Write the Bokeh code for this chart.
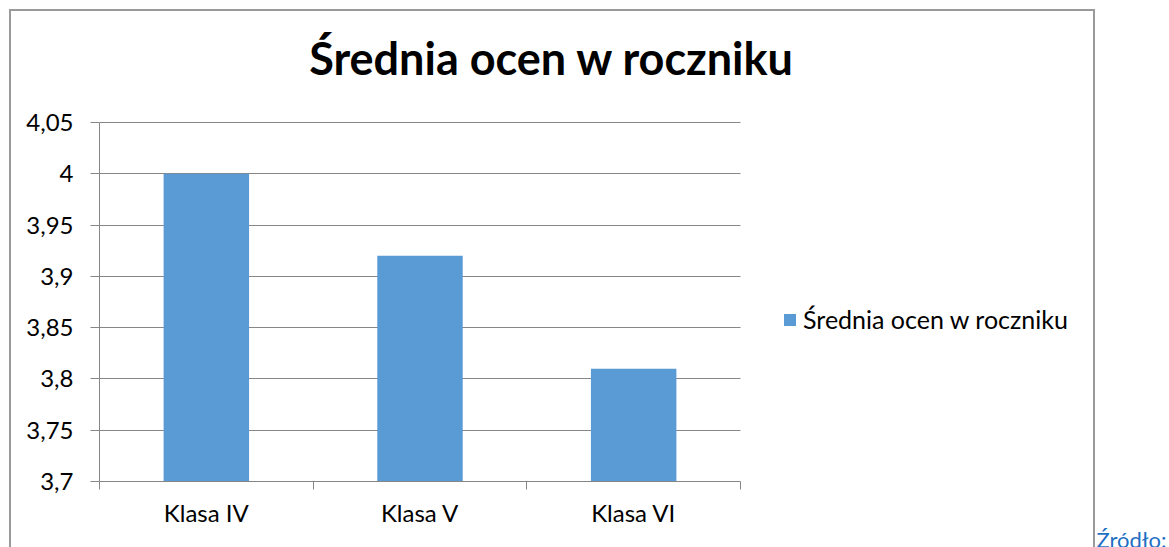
import numpy as np
from bokeh.plotting import figure
from bokeh.models import (FixedTicker, Legend, LegendItem, ColumnDataSource, Range1d, Title, Label)
from bokeh.embed import file_html
from bokeh.resources import INLINE

# ---- data ----
categories = ["Klasa IV", "Klasa V", "Klasa VI"]
values = [4.00, 3.92, 3.81]
series_name = "Średnia ocen w roczniku"
title_text = "Średnia ocen w roczniku"
y_ticks = [3.70, 3.75, 3.80, 3.85, 3.90, 3.95, 4.00, 4.05]
y_tick_labels = ["3,7", "3,75", "3,8", "3,85", "3,9", "3,95", "4", "4,05"]
source_text = "Źródło:"

FONT = "Lato"
GRAY = "#868686"
BAR = "#5B9BD5"
EDGE = "#9a9a9a"

W, H = 1169, 547
FL, FB = 99, 481                 # left / bottom edges of the bar area on the canvas
PLOT_R, PLOT_T = 740, 122        # right / top edges of the bar area
FRAME_R, FRAME_T = 1160, 10      # frame also holds the title and legend areas
n = len(categories)
x_end = n * (FRAME_R - FL) / (PLOT_R - FL)
y0, y1 = y_ticks[0], y_ticks[-1]
y_end = y0 + (y1 - y0) * (FB - FRAME_T) / (FB - PLOT_T)

p = figure(width=W, height=H, output_backend="svg", toolbar_location=None,
           x_range=Range1d(0, x_end), y_range=Range1d(y0, y_end),
           min_border_left=FL, min_border_right=W - FRAME_R, min_border_top=FRAME_T,
           min_border_bottom=H - FB)
p.outline_line_color = None
p.background_fill_alpha = 0
p.border_fill_alpha = 0

# outer chart frame (left, top and right edges) drawn as the element background
g = f"linear-gradient({EDGE},{EDGE})"
p.styles = {
    "background-color": "white",
    "background-image": ", ".join([g, g, g]),
    "background-position": "9px 9px, 9px 9px, 1093px 9px",
    "background-size": "2px 600px, 1086px 2px, 2px 600px",
    "background-repeat": "no-repeat",
}

xs = np.arange(n) + 0.5
src = ColumnDataSource(dict(x=xs, top=values, cat=categories))
r = p.vbar(x="x", top="top", bottom=y0, width=0.4, source=src,
           fill_color=BAR, line_color=None)

# x axis
p.xaxis.bounds = (0, n)
p.xaxis.ticker = FixedTicker(ticks=list(xs), minor_ticks=list(np.arange(n + 1)))
p.xaxis.major_label_overrides = {float(x): c for x, c in zip(xs, categories)}
p.xaxis.major_tick_in = 0
p.xaxis.major_tick_out = 0
p.xaxis.minor_tick_in = 0
p.xaxis.minor_tick_out = 8
p.xaxis.minor_tick_line_color = GRAY
p.xaxis.axis_line_color = GRAY
p.xaxis.major_label_standoff = 8
p.xaxis.major_label_text_font = FONT
p.xaxis.major_label_text_font_size = "24px"
p.xaxis.major_label_text_color = "black"
p.xgrid.grid_line_color = None

# y axis
p.yaxis.bounds = (y0, y1)
p.yaxis.ticker = FixedTicker(ticks=y_ticks)
p.yaxis.major_label_overrides = {t: l for t, l in zip(y_ticks, y_tick_labels)}
p.yaxis.major_tick_in = 0
p.yaxis.major_tick_out = 9
p.yaxis.major_tick_line_color = GRAY
p.yaxis.minor_tick_line_color = None
p.yaxis.axis_line_color = GRAY
p.yaxis.major_label_standoff = 17
p.yaxis.major_label_text_font = FONT
p.yaxis.major_label_text_font_size = "24px"
p.yaxis.major_label_text_color = "black"
p.ygrid.grid_line_color = GRAY
p.ygrid.grid_line_width = 1
if "cross_bounds" in p.ygrid[0].properties():
    p.ygrid.cross_bounds = (0, n)

# legend inside the (extended) frame, right of the bars
legend = Legend(items=[LegendItem(label=series_name, renderers=[r])],
                location=(683, 147), padding=0, margin=0, border_line_color=None,
                background_fill_alpha=0, glyph_width=15, glyph_height=15,
                label_standoff=6, label_text_font=FONT, label_text_font_size="25px",
                label_text_color="black")
p.add_layout(legend, "center")

# title (screen units are relative to the frame's bottom-left corner)
p.add_layout(Label(x=551.5 - FL, y=FB - 57, x_units="screen", y_units="screen",
                   text=title_text, text_align="center", text_baseline="alphabetic",
                   text_font=FONT, text_font_style="bold", text_font_size="45px",
                   text_color="black"))

# source note
p.add_layout(Title(text=source_text, align="left", offset=997, standoff=-12,
                   text_font=FONT, text_font_style="normal", text_font_size="22px",
                   text_color="#1F6FC5"), "below")

open("out.html", "w").write(file_html(p, INLINE))
